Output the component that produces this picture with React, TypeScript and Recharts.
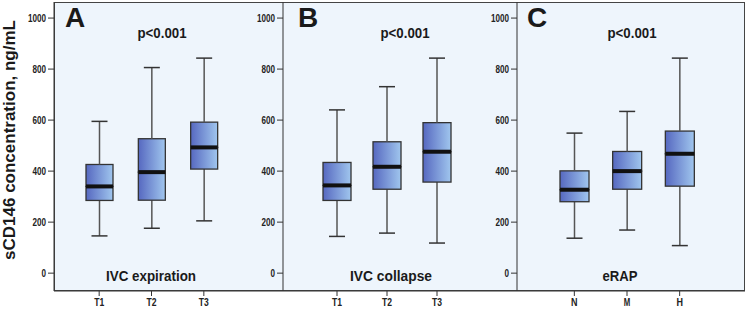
import React from "react";
import { ComposedChart, Bar, XAxis, YAxis } from "recharts";

const groupsA = ["T1", "T2", "T3"];
const groupsB = ["T1", "T2", "T3"];
const groupsC = ["N", "M", "H"];

const minA = [146, 176, 205];
const q1A = [285, 286, 408];
const medA = [340, 396, 493];
const q3A = [426, 527, 592];
const maxA = [595, 806, 843];

const minB = [144, 157, 118];
const q1B = [285, 329, 357];
const medB = [344, 417, 476];
const q3B = [434, 515, 590];
const maxB = [640, 731, 843];

const minC = [137, 169, 108];
const q1C = [280, 329, 341];
const medC = [327, 400, 468];
const q3C = [401, 477, 557];
const maxC = [549, 634, 843];

const yTicks = [0, 200, 400, 600, 800, 1000];

const buildRows = (names: string[], mins: number[], q1s: number[], meds: number[], q3s: number[], maxs: number[]) =>
  names.map((name, i) => ({
    name,
    base: mins[i],
    lowWhisker: q1s[i] - mins[i],
    lowBox: meds[i] - q1s[i],
    highBox: q3s[i] - meds[i],
    highWhisker: maxs[i] - q3s[i],
  }));

const WHISKER = "#555";
const BORDER = "#333";

const LowWhisker = (props: any) => {
  const { x, y, width, height } = props;
  const cx = x + width / 2;
  return (
    <g>
      <line x1={cx} x2={cx} y1={y} y2={y + height} stroke={WHISKER} strokeWidth={1.5} />
      <line x1={cx - 8} x2={cx + 8} y1={y + height} y2={y + height} stroke={BORDER} strokeWidth={1.5} />
    </g>
  );
};

const HighWhisker = (props: any) => {
  const { x, y, width, height } = props;
  const cx = x + width / 2;
  return (
    <g>
      <line x1={cx} x2={cx} y1={y} y2={y + height} stroke={WHISKER} strokeWidth={1.5} />
      <line x1={cx - 8} x2={cx + 8} y1={y} y2={y} stroke={BORDER} strokeWidth={1.5} />
    </g>
  );
};

const LowBox = (props: any) => {
  const { x, y, width, height } = props;
  return <rect x={x} y={y} width={width} height={height} fill="url(#boxGrad)" stroke={BORDER} strokeWidth={1.3} />;
};

const HighBox = (props: any) => {
  const { x, y, width, height } = props;
  return (
    <g>
      <rect x={x} y={y} width={width} height={height} fill="url(#boxGrad)" stroke={BORDER} strokeWidth={1.3} />
      <line x1={x} x2={x + width} y1={y + height} y2={y + height} stroke="#111" strokeWidth={4} />
    </g>
  );
};

const YTick = (props: any) => {
  const { x, y, payload } = props;
  const label = String(payload.value);
  return (
    <text x={x} y={y} dy={4} textAnchor="end" fontSize={11} fontWeight="bold" fill="#222"
      fontFamily="'Liberation Sans', Arial, sans-serif" textLength={label.length * 4.5} lengthAdjust="spacingAndGlyphs">
      {label}
    </text>
  );
};

const XTick = (props: any) => {
  const { x, y, payload } = props;
  const label = String(payload.value);
  return (
    <text x={x} y={y} dy={8} textAnchor="middle" fontSize={11} fontWeight="bold" fill="#222"
      fontFamily="'Liberation Sans', Arial, sans-serif" textLength={label.length === 1 ? 6.5 : 10} lengthAdjust="spacingAndGlyphs">
      {label}
    </text>
  );
};

type PanelProps = {
  rows: any[];
  left: number;
  width: number;
  axisWidth: number;
  padLeft: number;
  padRight: number;
  barSize: number;
};

const Panel = ({ rows, left, width, axisWidth, padLeft, padRight, barSize }: PanelProps) => (
  <div style={{ position: "absolute", left, top: 0 }}>
    <ComposedChart width={width} height={310} data={rows} margin={{ top: 2, right: 0, left: 0, bottom: 0 }}>
      <XAxis dataKey="name" height={19} tickSize={5} stroke={BORDER} tick={<XTick />} padding={{ left: padLeft, right: padRight }} interval={0} />
      <YAxis type="number" domain={[-70, 1063]} ticks={yTicks} width={axisWidth} tickSize={6} stroke={BORDER} tick={<YTick />} interval={0} />
      <Bar dataKey="base" stackId="s" fill="none" barSize={barSize} isAnimationActive={false} />
      <Bar dataKey="lowWhisker" stackId="s" barSize={barSize} shape={<LowWhisker />} isAnimationActive={false} />
      <Bar dataKey="lowBox" stackId="s" barSize={barSize} shape={<LowBox />} isAnimationActive={false} />
      <Bar dataKey="highBox" stackId="s" barSize={barSize} shape={<HighBox />} isAnimationActive={false} />
      <Bar dataKey="highWhisker" stackId="s" barSize={barSize} shape={<HighWhisker />} isAnimationActive={false} />
    </ComposedChart>
  </div>
);

const rowsA = buildRows(groupsA, minA, q1A, medA, q3A, maxA);
const rowsB = buildRows(groupsB, minB, q1B, medB, q3B, maxB);
const rowsC = buildRows(groupsC, minC, q1C, medC, q3C, maxC);

const font = "'Liberation Sans', Arial, sans-serif";

export default function App() {
  return (
    <div style={{ position: "absolute", left: 0, top: 0, width: 747, height: 310, background: "#fff", fontFamily: font }}>
      <svg width={0} height={0} style={{ position: "absolute" }}>
        <defs>
          <linearGradient id="boxGrad" x1="0" x2="1" y1="0" y2="0">
            <stop offset="0%" stopColor="#5668c0" />
            <stop offset="100%" stopColor="#a0c6ee" />
          </linearGradient>
        </defs>
      </svg>
      <div style={{ position: "absolute", left: 54, top: 2, width: 691, height: 289, background: "#eef5fc", border: "1px solid #444", boxSizing: "border-box" }} />
      <Panel rows={rowsA} left={0} width={283} axisWidth={54} padLeft={19} padRight={53} barSize={27} />
      <Panel rows={rowsB} left={243} width={274} axisWidth={40} padLeft={29} padRight={55} barSize={28} />
      <Panel rows={rowsC} left={477} width={268} axisWidth={40} padLeft={31} padRight={39} barSize={29} />
      <svg width={747} height={310} style={{ position: "absolute", left: 0, top: 0, pointerEvents: "none" }}>
        <g fontFamily={font} fontWeight="bold" fill="#1a1a1a">
          <text x={15} y={140} transform="rotate(-90 15 140)" textAnchor="middle" fontSize={17}>sCD146 concentration, ng/mL</text>
          <text x={65} y={27} fontSize={28}>A</text>
          <text x={298} y={27} fontSize={28}>B</text>
          <text x={527} y={27} fontSize={28}>C</text>
          <text x={162} y={38} textAnchor="middle" fontSize={14} textLength={49} lengthAdjust="spacingAndGlyphs">p&lt;0.001</text>
          <text x={405} y={38} textAnchor="middle" fontSize={14} textLength={49} lengthAdjust="spacingAndGlyphs">p&lt;0.001</text>
          <text x={632} y={38} textAnchor="middle" fontSize={14} textLength={49} lengthAdjust="spacingAndGlyphs">p&lt;0.001</text>
          <text x={151} y={281} textAnchor="middle" fontSize={15} textLength={90} lengthAdjust="spacingAndGlyphs">IVC expiration</text>
          <text x={391} y={281} textAnchor="middle" fontSize={15} textLength={82} lengthAdjust="spacingAndGlyphs">IVC collapse</text>
          <text x={620} y={281} textAnchor="middle" fontSize={15} textLength={35} lengthAdjust="spacingAndGlyphs">eRAP</text>
        </g>
      </svg>
    </div>
  );
}
